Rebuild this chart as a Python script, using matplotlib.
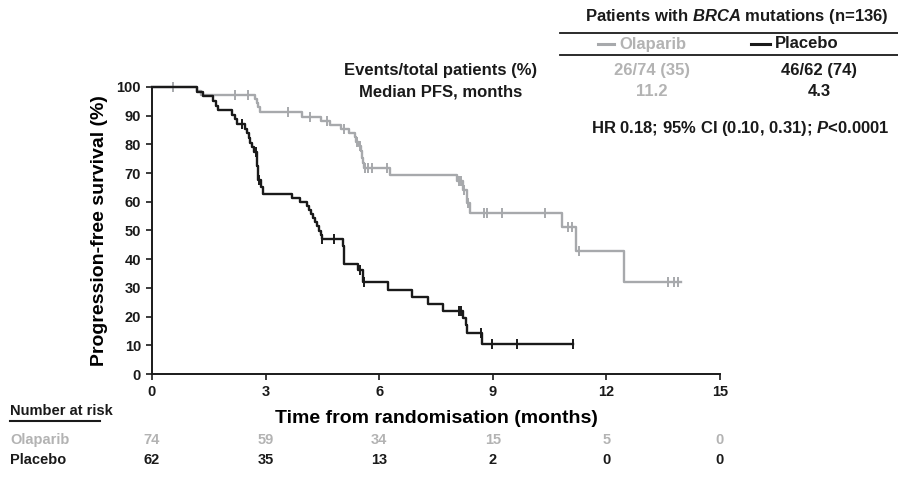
import numpy as np
import matplotlib
matplotlib.use("Agg")
import matplotlib.pyplot as plt

FONT = ["Liberation Sans", "DejaVu Sans"]
plt.rcParams["font.family"] = FONT
plt.rcParams["font.weight"] = "bold"
plt.rcParams["mathtext.fontset"] = "custom"
plt.rcParams["mathtext.rm"] = "Liberation Sans:bold"
plt.rcParams["mathtext.it"] = "Liberation Sans:italic:bold"

GREY = "#a7a9ac"
GREY_TXT = "#b3b3b3"
BLACK = "#1a1a1a"

# Olaparib: step times (months) and survival after each step (%)
ola_t = [0, 1.2, 1.3, 2.72, 2.76, 2.8, 2.85, 3.95, 4.46, 4.7, 5.0, 5.2, 5.36, 5.4,
         5.46, 5.52, 5.55, 5.58, 5.6, 6.28, 8.06, 8.2, 8.33, 8.41, 10.84, 11.2, 12.46]
ola_s = [100, 98.6, 97.3, 95.9, 94.5, 93.0, 91.2, 89.7, 88.3, 86.8, 85.4, 84.0, 82.5, 81.0,
         79.4, 77.7, 75.2, 73.4, 71.7, 69.3, 67.2, 64.1, 59.5, 56.0, 51.3, 42.9, 31.9]
ola_end = 13.97
ola_cens = [0.56, 2.2, 2.53, 3.58, 4.17, 4.61, 5.08, 5.42, 5.5, 5.62, 5.7, 5.82, 6.2,
            8.1, 8.15, 8.24, 8.35, 8.78, 8.84, 9.23, 10.38, 10.99, 11.1, 11.28,
            13.63, 13.79, 13.9]

# Placebo
pla_t = [0, 1.18, 1.35, 1.6, 1.68, 1.75, 2.1, 2.2, 2.25, 2.45, 2.5, 2.55, 2.6, 2.65, 2.7,
         2.76, 2.77, 2.78, 2.79, 2.8, 2.81, 2.88, 2.93, 3.69, 3.9, 4.1, 4.15, 4.2, 4.25,
         4.3, 4.35, 4.4, 4.45, 4.5, 5.05, 5.06, 5.07, 5.08, 5.45, 5.56, 5.58, 6.24, 6.86,
         7.3, 7.69, 8.2, 8.3, 8.32, 8.72]
pla_s = [100, 98.4, 96.8, 95.2, 93.5, 91.9, 90.3, 88.7, 87.1, 85.5, 83.9, 82.3, 80.6, 79.0,
         77.4, 75.8, 74.2, 72.6, 71.0, 69.3, 67.7, 65.2, 62.7, 61.3, 59.9, 58.5, 57.1, 55.6,
         54.2, 52.8, 51.4, 49.9, 48.4, 47.0, 44.7, 42.6, 40.4, 38.3, 36.2, 34.0, 31.9, 29.3,
         26.9, 24.3, 21.9, 19.4, 16.9, 14.4, 10.3]
pla_end = 11.13
pla_cens = [2.38, 2.75, 2.82, 4.5, 4.8, 5.5, 5.6, 8.1, 8.15, 8.7, 8.99, 9.65, 11.13]

xticks = [0, 3, 6, 9, 12, 15]
ola_risk = [74, 59, 34, 15, 5, 0]
pla_risk = [62, 35, 13, 2, 0, 0]

fig = plt.figure(figsize=(8.98, 4.92), dpi=100)
ax = fig.add_axes([152 / 898, 1 - 374 / 492, (720 - 152) / 898, (374 - 87) / 492])


def draw_km(t, s, end, cens, color, z):
    tt = list(t) + [end]
    ss = list(s) + [s[-1]]
    ax.step(tt, ss, where="post", color=color, lw=1.7, zorder=z, clip_on=False)
    idx = np.searchsorted(np.array(t), np.array(cens), side="right") - 1
    cy = np.array(s)[idx]
    ax.plot(cens, cy, ls="none", marker="|", ms=6.5, mew=1.4, color=color,
            zorder=z, clip_on=False)


draw_km(ola_t, ola_s, ola_end, ola_cens, GREY, 2)
draw_km(pla_t, pla_s, pla_end, pla_cens, BLACK, 3)

ax.set_xlim(0, 15)
ax.set_ylim(0, 100)
ax.set_xticks(xticks)
ax.set_yticks(range(0, 101, 10))
for sp in ["top", "right"]:
    ax.spines[sp].set_visible(False)
for sp in ["left", "bottom"]:
    ax.spines[sp].set_linewidth(1.4)
    ax.spines[sp].set_color(BLACK)
ax.tick_params(direction="out", length=4, width=1.2, colors=BLACK, labelsize=10.5, pad=4)
for lab in ax.get_xticklabels() + ax.get_yticklabels():
    lab.set_fontweight("bold")
ax.set_ylabel("Progression-free survival (%)", fontsize=14, fontweight="bold", labelpad=6)
ax.set_xlabel("Time from randomisation (months)", fontsize=14, fontweight="bold", labelpad=8)

# header table
TS = 12
fig.text(737 / 898, 1 - 17 / 492, r"Patients with $\mathit{BRCA}$ mutations (n=136)",
         ha="center", va="center", fontsize=TS, fontweight="bold", color=BLACK)
fig.add_artist(plt.Line2D([560 / 898, 1], [1 - 33 / 492] * 2, color=BLACK, lw=1.3))
fig.add_artist(plt.Line2D([560 / 898, 1], [1 - 55 / 492] * 2, color=BLACK, lw=1.3))
fig.add_artist(plt.Line2D([598 / 898, 614 / 898], [1 - 44 / 492] * 2, color=GREY, lw=2.2))
fig.add_artist(plt.Line2D([751 / 898, 770 / 898], [1 - 44 / 492] * 2, color=BLACK, lw=2.2))
fig.text(619 / 898, 1 - 44 / 492, "Olaparib", ha="left", va="center", fontsize=TS,
         fontweight="bold", color=GREY_TXT)
fig.text(775 / 898, 1 - 44 / 492, "Placebo", ha="left", va="center", fontsize=TS,
         fontweight="bold", color=BLACK)

rows = [("Events/total patients (%)", "26/74 (35)", "46/62 (74)", 71),
        ("Median PFS, months", "11.2", "4.3", 92)]
for lab, a, b, y in rows:
    fig.text(441 / 898, 1 - y / 492, lab, ha="center", va="center", fontsize=TS,
             fontweight="bold", color=BLACK)
    fig.text(652 / 898, 1 - y / 492, a, ha="center", va="center", fontsize=TS,
             fontweight="bold", color=GREY_TXT)
    fig.text(819 / 898, 1 - y / 492, b, ha="center", va="center", fontsize=TS,
             fontweight="bold", color=BLACK)
fig.text(740 / 898, 1 - 128 / 492, r"HR 0.18; 95% CI (0.10, 0.31); $\mathit{P}$<0.0001",
         ha="center", va="center", fontsize=TS, fontweight="bold", color=BLACK)

# number at risk
RS = 10.5
fig.text(10 / 898, 1 - 411 / 492, "Number at risk", ha="left", va="center", fontsize=RS,
         fontweight="bold", color=BLACK)
fig.add_artist(plt.Line2D([10 / 898, 100 / 898], [1 - 421 / 492] * 2, color=BLACK, lw=1.5))
fig.text(10 / 898, 1 - 440 / 492, "Olaparib", ha="left", va="center", fontsize=RS,
         fontweight="bold", color=GREY_TXT)
fig.text(10 / 898, 1 - 460 / 492, "Placebo", ha="left", va="center", fontsize=RS,
         fontweight="bold", color=BLACK)
for xt, a, b in zip(xticks, ola_risk, pla_risk):
    xf = ax.transData.transform((xt, 0))[0] / fig.bbox.width
    fig.text(xf, 1 - 440 / 492, str(a), ha="center", va="center", fontsize=RS,
             fontweight="bold", color=GREY_TXT)
    fig.text(xf, 1 - 460 / 492, str(b), ha="center", va="center", fontsize=RS,
             fontweight="bold", color=BLACK)

fig.savefig("out.png", dpi=100)
